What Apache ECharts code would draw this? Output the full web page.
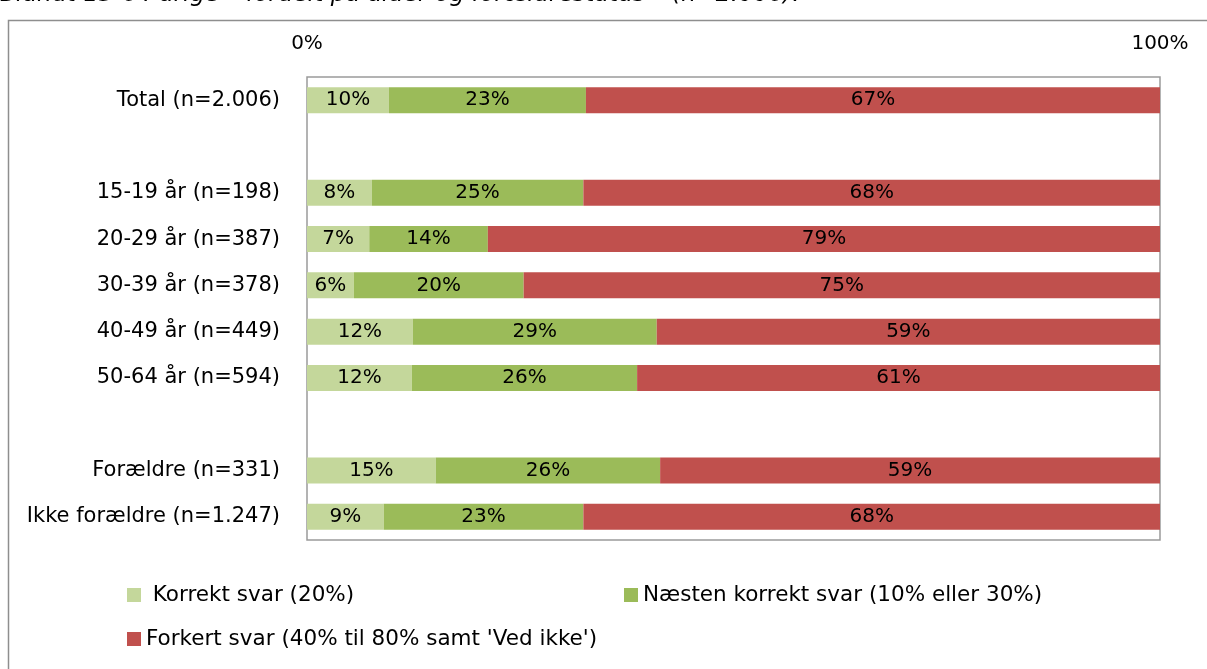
<!DOCTYPE html>
<html>
<head>
<meta charset="utf-8">
<script src="https://cdn.jsdelivr.net/npm/echarts@6/dist/echarts.min.js"></script>
<style>
  html, body { margin: 0; padding: 0; background: #fff; }
  #chart { width: 1207px; height: 669px; }
</style>
</head>
<body>
<div id="chart"></div>
<script>
// kategorier (tomme rækker giver luft mellem grupperne)
const categories = [
  'Total (n=2.006)', ' ',
  '15-19 år (n=198)', '20-29 år (n=387)', '30-39 år (n=378)',
  '40-49 år (n=449)', '50-64 år (n=594)', '  ',
  'Forældre (n=331)', 'Ikke forældre (n=1.247)'
]
const seriesNames = [' Korrekt svar (20%)', 'Næsten korrekt svar (10% eller 30%)', "Forkert svar (40% til 80% samt 'Ved ikke')"]
const korrekt = [9.6, null, 7.6, 7.3, 5.5, 12.4, 12.3, null, 15.1, 9.0]
const naesten = [23.1, null, 24.8, 13.9, 19.9, 28.6, 26.4, null, 26.3, 23.4]
const forkert = [67.3, null, 67.6, 78.8, 74.6, 59.0, 61.3, null, 58.6, 67.6]
const colors = ['#c4d79b', '#9bbb59', '#c0504d']

const FONT = 'DejaVu Sans'
const chart = echarts.init(document.getElementById('chart'))

const mkSeries = (name, data, i) => ({
  name: name,
  type: 'bar',
  stack: 'svar',
  data: data,
  barWidth: 26,
  itemStyle: { color: colors[i] },
  label: {
    show: true,
    position: 'inside',
    color: '#000',
    fontFamily: FONT,
    fontSize: 20,
    formatter: p => Math.round(p.value) + '%'
  },
  emphasis: { disabled: true }
})

const legendBase = {
  icon: 'rect',
  itemWidth: 14,
  itemHeight: 14,
  itemGap: 5,
  textStyle: { fontFamily: FONT, fontSize: 21.5, color: '#000' }
}

chart.setOption({
  animation: false,
  graphic: [
    {
      type: 'rect',
      shape: { x: 8.5, y: 20.5, width: 1400, height: 900 },
      style: { fill: 'none', stroke: '#8e8e8e', lineWidth: 1.5 },
      z: -10
    },
    {
      type: 'text',
      x: 0,
      y: 6,
      style: {
        text: 'Blandt 15-64 årige – fordelt på alder og forældrestatus – (n=2.006).',
        font: 'italic 23.5px ' + FONT,
        fill: '#000',
        verticalAlign: 'bottom'
      }
    }
  ],
  legend: [
    Object.assign({}, legendBase, { data: [seriesNames[0]], left: 122, top: 579 }),
    Object.assign({}, legendBase, { data: [seriesNames[1]], left: 619, top: 579 }),
    Object.assign({}, legendBase, { data: [seriesNames[2]], left: 122, top: 623 })
  ],
  grid: {
    left: 307,
    right: 47,
    top: 77,
    bottom: 129,
    show: true,
    borderColor: '#9a9a9a',
    borderWidth: 1.5,
    containLabel: false
  },
  xAxis: {
    type: 'value',
    position: 'top',
    min: 0,
    max: 100,
    interval: 100,
    axisLine: { show: false },
    axisTick: { show: false },
    splitLine: { show: false },
    axisLabel: {
      margin: 23,
      color: '#000',
      fontFamily: FONT,
      fontSize: 20,
      formatter: '{value}%'
    }
  },
  yAxis: {
    type: 'category',
    inverse: true,
    data: categories,
    axisLine: { show: false },
    axisTick: { show: false },
    axisLabel: {
      margin: 27,
      color: '#000',
      fontFamily: FONT,
      fontSize: 21
    }
  },
  series: [
    mkSeries(seriesNames[0], korrekt, 0),
    mkSeries(seriesNames[1], naesten, 1),
    mkSeries(seriesNames[2], forkert, 2)
  ]
})
</script>
</body>
</html>
